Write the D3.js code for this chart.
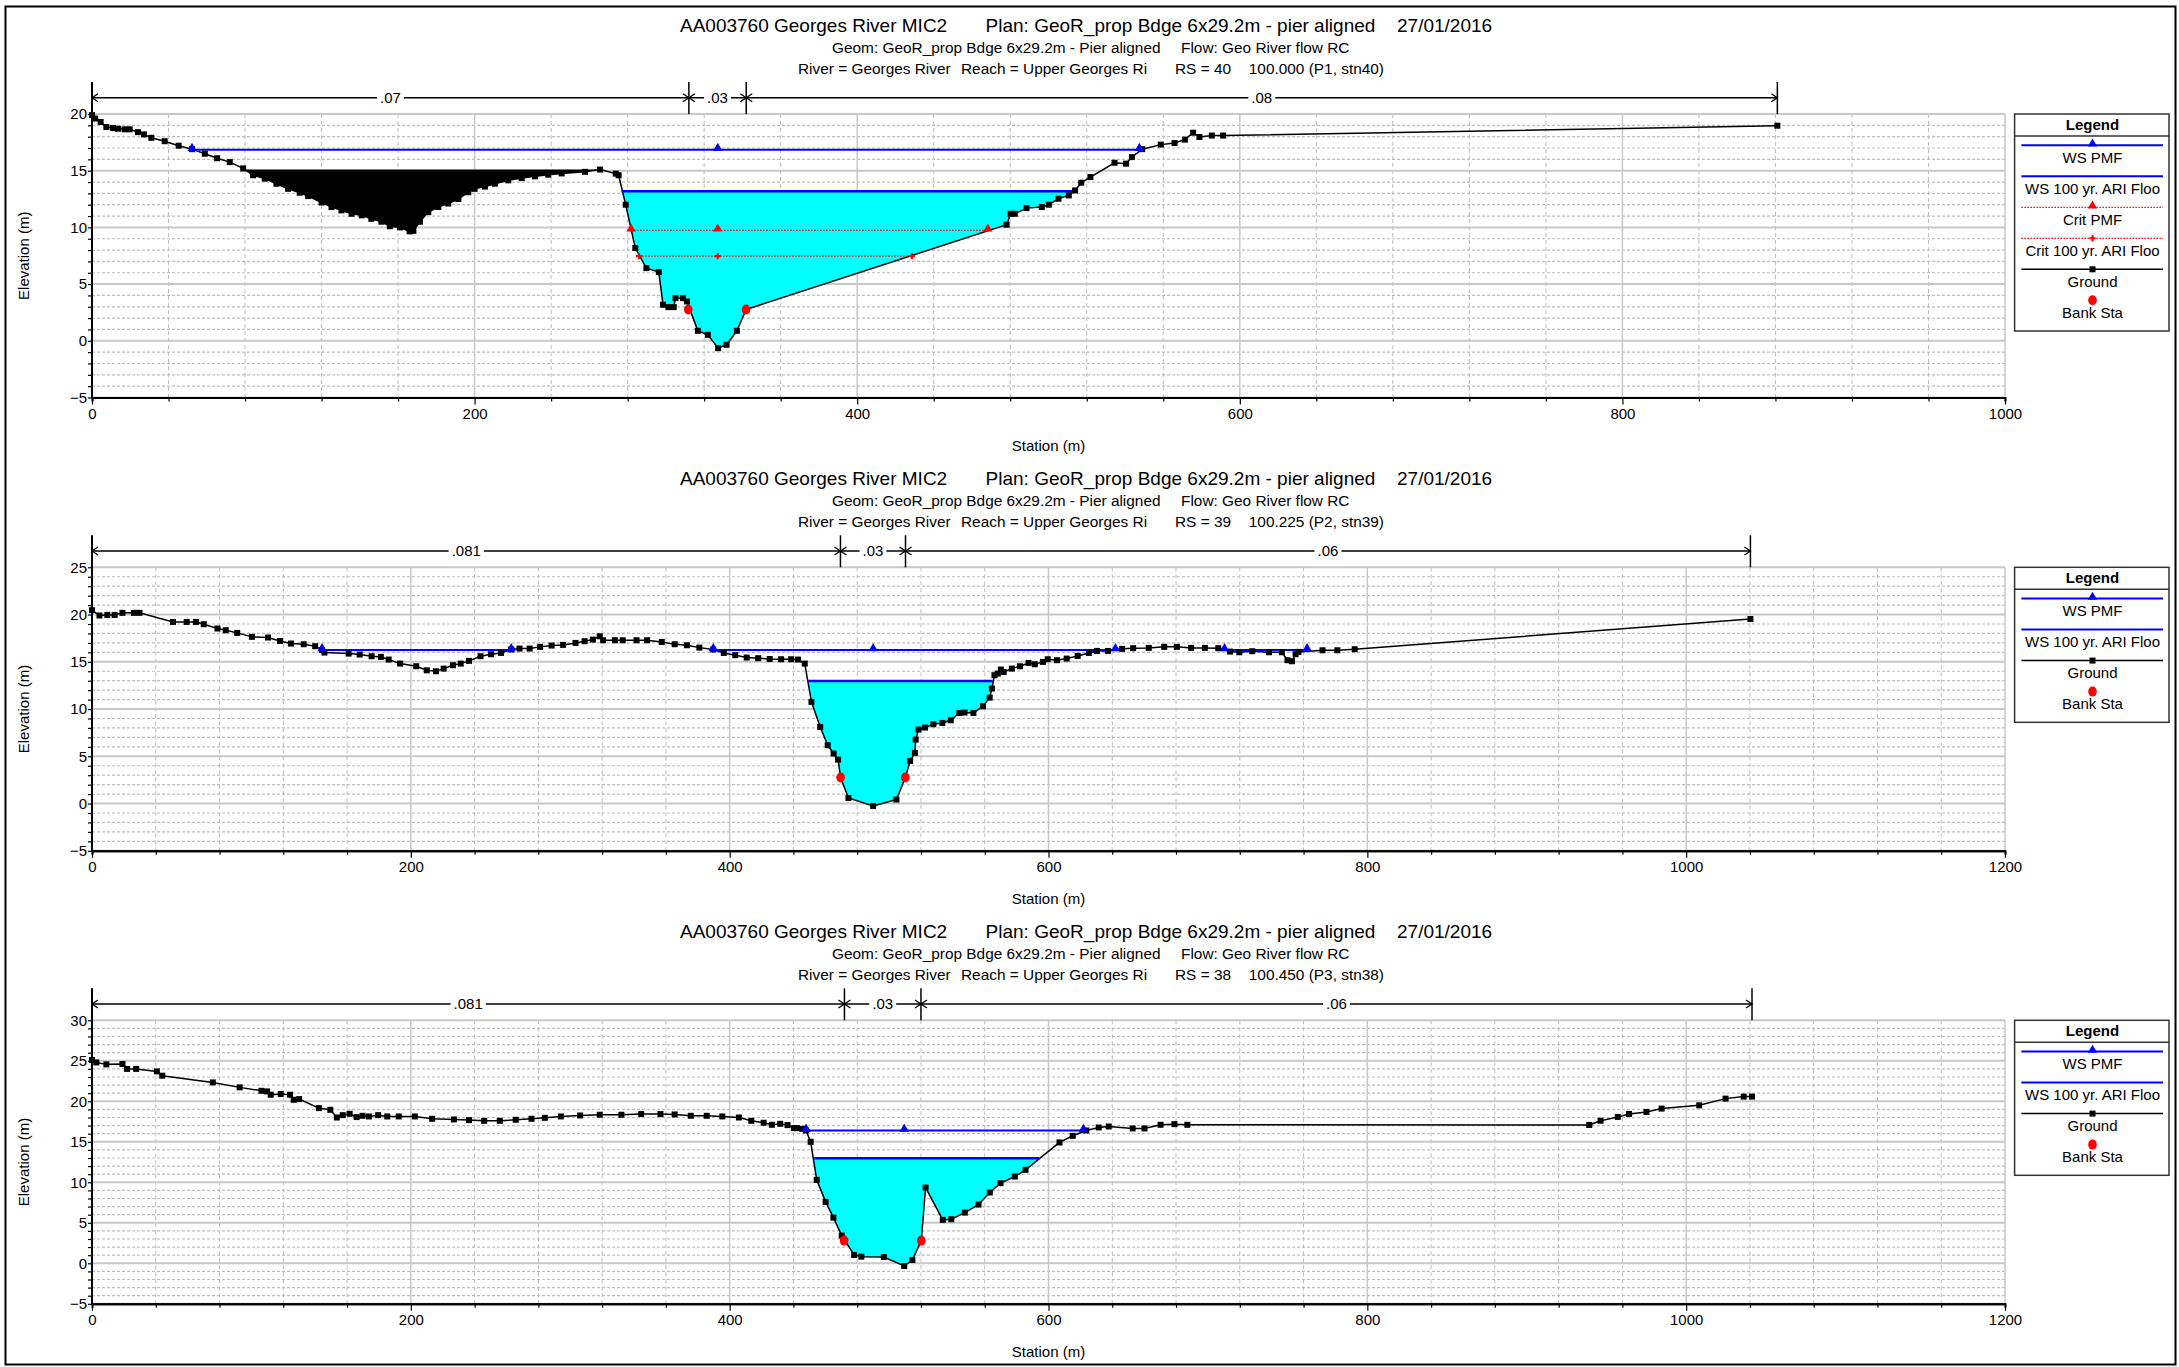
<!DOCTYPE html>
<html>
<head>
<meta charset="utf-8">
<script src="https://cdn.jsdelivr.net/npm/d3@7"></script>
<style>
  body { margin: 0; background: #fff; }
  text { font-family: "Liberation Sans", Arial, sans-serif; fill: #000; }
</style>
</head>
<body>
<svg id="chart" width="2179" height="1367"></svg>
<script>
//dimensions of the svg
var width = 2179, height = 1367;
var plotLeft = 92, plotRight = 2005, plotH = 283.5;
var panelTops = [114, 567.3, 1020.3];

//title text
var titleMain = ['AA003760 Georges River MIC2', 'Plan: GeoR_prop Bdge 6x29.2m - pier aligned', '27/01/2016'];
var titleGeom = ['Geom: GeoR_prop Bdge 6x29.2m - Pier aligned', 'Flow: Geo River flow RC'];
var titleRiver = [
  ['River = Georges River', 'Reach = Upper Georges Ri', 'RS = 40', '100.000 (P1, stn40)'],
  ['River = Georges River', 'Reach = Upper Georges Ri', 'RS = 39', '100.225 (P2, stn39)'],
  ['River = Georges River', 'Reach = Upper Georges Ri', 'RS = 38', '100.450 (P3, stn38)']
];

//axes
var xMax = [1000, 1200, 1200];
var yMin = [-5, -5, -5];
var yMax = [20, 25, 30];
var xTicks = [
  [0, 200, 400, 600, 800, 1000],
  [0, 200, 400, 600, 800, 1000, 1200],
  [0, 200, 400, 600, 800, 1000, 1200]
];
var yTicks = [
  [-5, 0, 5, 10, 15, 20],
  [-5, 0, 5, 10, 15, 20, 25],
  [-5, 0, 5, 10, 15, 20, 25, 30]
];

//ground profiles [station, elevation]
var ground1 = [[0,19.9],[1.7,19.6],[4.5,19.3],[7.5,18.85],[11,18.76],[13.6,18.7],[17,18.65],[19.7,18.65],[24,18.4],[27.2,18.2],[31,17.9],[38,17.6],[45.3,17.2],[52.3,16.9],[59,16.5],[65.4,16.1],[72,15.76],[79,15.2],[84.2,14.6],[90.3,14.3],[96.4,13.85],[102.5,13.4],[108.6,13.06],[113,12.76],[120,12.2],[125.2,11.8],[130.4,11.5],[135.7,11.2],[141,11.06],[146,10.76],[151.3,10.5],[155.7,10.1],[161,10.0],[166,9.65],[168,9.7],[171.4,10.5],[175.8,11.35],[181,11.8],[186.2,12.1],[191.5,12.5],[196.7,13.1],[200,13.4],[205.4,13.6],[210.6,13.85],[217.6,14.15],[224.6,14.35],[231.6,14.5],[238.5,14.65],[245.5,14.76],[257.7,14.9],[265.6,15.1],[273.8,14.74],[275.3,14.6],[279,12.0],[284,8.18],[289.8,6.41],[296.3,6.06],[298.5,3.18],[301.3,2.97],[304.1,2.97],[305,3.76],[308.9,3.76],[311,3.47],[316.7,0.88],[321.9,0.53],[327.3,-0.65],[331.7,-0.35],[337.1,0.88],[341.9,2.76],[478.1,10.24],[480.2,11.2],[482.4,11.2],[488.5,11.7],[496.5,11.8],[500.2,12.0],[505.2,12.53],[510.6,12.82],[513.9,13.26],[517.1,13.94],[521.9,14.44],[534.5,15.7],[540.5,15.62],[543.6,16.2],[549,16.9],[558.7,17.3],[565.9,17.44],[571.3,17.74],[575.6,18.35],[578.9,17.97],[585.4,18.1],[591.3,18.1],[881,18.97]];

var ground2 = [[0,20.46],[4.7,19.9],[9.6,19.96],[14.2,19.96],[19.1,20.18],[26.3,20.18],[29.8,20.18],[50.8,19.22],[59.4,19.22],[65.2,19.22],[70.1,18.98],[78.7,18.52],[83.9,18.34],[91.1,18.06],[100.3,17.64],[110.4,17.57],[117.9,17.2],[124.8,16.93],[132.8,16.86],[140,16.65],[144.3,16.25],[145.8,15.98],[161,15.87],[167.9,15.77],[175.4,15.59],[181.2,15.52],[186.1,15.24],[193.3,14.81],[203.4,14.53],[210,14.1],[215.8,14.0],[220.6,14.28],[226.4,14.64],[231.3,14.81],[236.5,15.1],[243.7,15.59],[250.3,15.8],[256.6,15.94],[263,16.3],[268.2,16.4],[274.5,16.4],[281.1,16.58],[288.3,16.72],[295.5,16.79],[303.3,17.0],[309,17.18],[314.2,17.35],[318.5,17.7],[320.6,17.28],[328,17.28],[332.9,17.28],[341.6,17.28],[348.2,17.28],[357.4,17.1],[365.5,16.86],[373.2,16.75],[381,16.5],[389.7,16.3],[396.3,15.94],[403.5,15.7],[410.7,15.45],[417.9,15.38],[425.1,15.3],[432.3,15.27],[438.6,15.27],[442.9,15.24],[447.1,14.81],[451.3,10.76],[456.8,8.11],[461.5,6.17],[465.2,5.29],[468,4.65],[469.6,2.75],[474.5,0.59],[490,-0.25],[504.6,0.42],[510.2,2.75],[513.2,4.51],[516.2,5.36],[516.7,6.77],[518.5,7.83],[522.5,8.04],[527.8,8.39],[533.4,8.53],[538.7,8.81],[544.1,9.59],[547.3,9.63],[552.9,9.59],[558.9,10.3],[563.1,11.21],[564.5,12.17],[566.1,13.58],[568.2,13.75],[570.1,14.18],[571.9,13.93],[577,14.28],[582.1,14.53],[587.5,14.88],[591.4,14.74],[596.5,14.99],[599.5,15.27],[605.3,15.17],[611.4,15.34],[618.3,15.62],[625.3,15.94],[630.4,16.15],[637.3,16.15],[646.2,16.37],[653.1,16.44],[662.9,16.47],[672.6,16.58],[680.5,16.58],[689.5,16.47],[698.1,16.47],[706.5,16.44],[713.9,16.08],[719.7,16.01],[727.8,16.12],[738.3,16.01],[746.4,16.01],[749.9,15.17],[752.7,15.06],[755,15.8],[756.8,16.05],[771.9,16.22],[781.2,16.22],[792.1,16.33],[1040.3,19.53]];

var ground3 = [[0,25.1],[2.7,24.8],[9,24.56],[19.1,24.6],[22,24.0],[27.7,24.0],[40.7,23.69],[44.1,23.16],[75.8,22.33],[92.6,21.72],[106.3,21.3],[109.8,21.22],[112.1,20.81],[118.4,20.9],[124.2,20.81],[126.5,20.19],[129.9,20.27],[142.3,19.16],[149.5,18.95],[153.6,18.0],[157.3,18.29],[161.6,18.46],[166,18.05],[169.7,18.21],[173.7,18.13],[179.5,18.29],[185.2,18.13],[192.4,18.13],[202.5,18.13],[213.4,17.84],[227,17.76],[236.5,17.68],[246,17.59],[255.8,17.59],[265.8,17.72],[275.7,17.84],[284,17.96],[294.1,18.13],[306.2,18.25],[318.5,18.34],[332.1,18.34],[344.5,18.42],[356.6,18.42],[365.5,18.38],[375.6,18.21],[385.6,18.21],[395.4,18.13],[405.8,18.0],[413.6,17.59],[421.3,17.35],[426.5,17.1],[431.7,17.22],[436.3,17.06],[440.3,16.69],[442.3,16.69],[445.6,16.6],[447.9,16.4],[450.8,15.0],[454.6,10.3],[460.2,7.58],[465.1,5.64],[470.3,3.42],[478.1,1.03],[482.6,0.82],[496.7,0.78],[509.5,-0.33],[514.6,0.41],[520.2,2.8],[522.9,9.35],[533.7,5.36],[539,5.44],[547.5,6.26],[556.1,7.25],[563.2,8.74],[569.9,9.89],[578.9,10.71],[585.6,11.54],[606.9,14.92],[615.2,15.74],[623.7,16.4],[631.5,16.77],[637.8,16.89],[652.8,16.65],[660.2,16.65],[670.3,17.1],[679,17.18],[687.1,17.1],[939.2,17.08],[946.3,17.6],[957.1,18.07],[964.2,18.44],[975.1,18.69],[984.6,19.1],[1008.2,19.5],[1024.7,20.33],[1036.1,20.58],[1041.3,20.58]];

var grounds = [ground1, ground2, ground3];

//bank stations
var banks = [[[311.7,2.76],[341.9,2.76]], [[469.6,2.75],[510.2,2.75]], [[471.8,2.8],[520.2,2.8]]];

//water surfaces
var wsPmfElev = [16.85, 16.25, 16.4];
var wsPmfSegments = [[[52.3,547.5]], [[144.3,263],[389.7,642],[710.4,762.2]], [[447.9,621.9]]];
var wsPmfMarks = [[52.3,327.1,547.5], [144.3,263,389.7,490,642,710.4,762.2], [447.9,509.5,621.9]];
var ws100Elev = [13.18, 12.98, 12.98];
var ws100Range = [[276.8,513.9], [449.4,565], [453,594.1]];

//critical depth (first section only)
var critPmfElev = 9.74, critPmfRange = [281.8,468.3], critPmfMarks = [281.8,327.1,468.3];
var crit100Elev = 7.47, crit100Range = [286,428.6], crit100Marks = [286,327.1,428.6];

//blocked area (first section only)
var blockElev = 15.1, blockRange = [79,265.6];

//Manning's n
var nBreaks = [[0,312,342,881], [0,469.5,510.3,1040.3], [0,472,520,1041.3]];
var nValues = [['.07','.03','.08'], ['.081','.03','.06'], ['.081','.03','.06']];

//legends
var legend1 = ['WS PMF', 'WS 100 yr. ARI Floo', 'Crit PMF', 'Crit 100 yr. ARI Floo', 'Ground', 'Bank Sta'];
var legend23 = ['WS PMF', 'WS 100 yr. ARI Floo', 'Ground', 'Bank Sta'];
var legends = [legend1, legend23, legend23];

var svg = d3.select('#chart');

svg.append('rect')
  .attr('x', 5.5).attr('y', 6.5)
  .attr('width', 2170).attr('height', 1358)
  .attr('fill', 'none').attr('stroke', '#000').attr('stroke-width', 2);

function groundAt(pts, s) {
  for (var i = 0; i < pts.length - 1; i++) {
    var a = pts[i], b = pts[i + 1];
    if (s >= a[0] && s <= b[0]) {
      var t = (s - a[0]) / ((b[0] - a[0]) || 1);
      return a[1] + t * (b[1] - a[1]);
    }
  }
  return pts[pts.length - 1][1];
}

function clipGround(pts, lo, hi) {
  var out = [[lo, groundAt(pts, lo)]];
  pts.forEach(function(p) {
    if (p[0] > lo && p[0] < hi) out.push(p);
  });
  out.push([hi, groundAt(pts, hi)]);
  return out;
}

var triangle = d3.symbol().type(d3.symbolTriangle).size(38);
var square = d3.symbol().type(d3.symbolSquare).size(36);
var plus = d3.symbol().type(d3.symbolCross).size(22);
var fmt = d3.format('d');

function drawPanel(p) {
  var top = panelTops[p], bottom = top + plotH;
  var g = svg.append('g');
  var ground = grounds[p];

  var x = d3.scaleLinear().domain([0, xMax[p]]).range([plotLeft, plotRight]);
  var y = d3.scaleLinear().domain([yMin[p], yMax[p]]).range([bottom, top]);

  //titles
  var tx1 = [680, 985.6, 1397];
  titleMain.forEach(function(t, i) {
    g.append('text').attr('x', tx1[i]).attr('y', top - 82.3)
      .style('font-size', '19px').text(t);
  });
  var tx2 = [832, 1181];
  titleGeom.forEach(function(t, i) {
    g.append('text').attr('x', tx2[i]).attr('y', top - 61.5)
      .style('font-size', '15.4px').text(t);
  });
  var tx3 = [798, 961, 1175, 1248.8];
  titleRiver[p].forEach(function(t, i) {
    g.append('text').attr('x', tx3[i]).attr('y', top - 40)
      .style('font-size', '15.4px').text(t);
  });

  //grid
  var minorX = d3.range(0, xMax[p] + 1, 40).filter(function(v) { return v % 200 !== 0; });
  var minorY = d3.range(yMin[p], yMax[p] + 1, 1).filter(function(v) { return v % 5 !== 0; });

  g.append('g').selectAll('line').data(minorY).enter().append('line')
    .attr('x1', plotLeft).attr('x2', plotRight)
    .attr('y1', function(d) { return y(d); }).attr('y2', function(d) { return y(d); })
    .attr('stroke', '#bdbdbd').attr('stroke-width', 1.2).attr('stroke-dasharray', '3,2');
  g.append('g').selectAll('line').data(minorX).enter().append('line')
    .attr('x1', function(d) { return x(d); }).attr('x2', function(d) { return x(d); })
    .attr('y1', top).attr('y2', bottom)
    .attr('stroke', '#bdbdbd').attr('stroke-width', 1).attr('stroke-dasharray', '4,3');
  g.append('g').selectAll('line').data(yTicks[p]).enter().append('line')
    .attr('x1', plotLeft).attr('x2', plotRight)
    .attr('y1', function(d) { return y(d); }).attr('y2', function(d) { return y(d); })
    .attr('stroke', '#c8c8c8').attr('stroke-width', 2);
  g.append('g').selectAll('line').data(xTicks[p]).enter().append('line')
    .attr('x1', function(d) { return x(d); }).attr('x2', function(d) { return x(d); })
    .attr('y1', top).attr('y2', bottom)
    .attr('stroke', '#c8c8c8').attr('stroke-width', 1.5);

  //blocked area
  if (p === 0) {
    var block = d3.area()
      .x(function(d) { return x(d[0]); })
      .y0(y(blockElev))
      .y1(function(d) { return y(Math.min(d[1], blockElev)); });
    g.append('path').datum(clipGround(ground, blockRange[0], blockRange[1]))
      .attr('d', block).attr('fill', '#000');
  }

  //100 yr water fill
  var wsE = ws100Elev[p];
  var water = d3.area()
    .x(function(d) { return x(d[0]); })
    .y0(y(wsE))
    .y1(function(d) { return y(Math.min(d[1], wsE)); });
  g.append('path').datum(clipGround(ground, ws100Range[p][0], ws100Range[p][1]))
    .attr('d', water).attr('fill', '#00ffff');

  //ground line
  var line = d3.line()
    .x(function(d) { return x(d[0]); })
    .y(function(d) { return y(d[1]); });
  g.append('path').datum(ground).attr('d', line)
    .attr('fill', 'none').attr('stroke', '#000').attr('stroke-width', 1.5);

  //water surface lines
  g.append('line')
    .attr('x1', x(ws100Range[p][0])).attr('x2', x(ws100Range[p][1]))
    .attr('y1', y(wsE)).attr('y2', y(wsE))
    .attr('stroke', '#0000ff').attr('stroke-width', 2.5);
  wsPmfSegments[p].forEach(function(s) {
    g.append('line')
      .attr('x1', x(s[0])).attr('x2', x(s[1]))
      .attr('y1', y(wsPmfElev[p])).attr('y2', y(wsPmfElev[p]))
      .attr('stroke', '#0000ff').attr('stroke-width', 2);
  });

  //critical lines
  if (p === 0) {
    [[critPmfElev, critPmfRange], [crit100Elev, crit100Range]].forEach(function(c) {
      g.append('line')
        .attr('x1', x(c[1][0])).attr('x2', x(c[1][1]))
        .attr('y1', y(c[0])).attr('y2', y(c[0]))
        .attr('stroke', '#ff0000').attr('stroke-width', 1.2).attr('stroke-dasharray', '1.5,1.5');
    });
  }

  //ground markers
  g.append('g').selectAll('path').data(ground).enter().append('path')
    .attr('d', square)
    .attr('transform', function(d) { return 'translate(' + x(d[0]) + ',' + y(d[1]) + ')'; })
    .attr('fill', '#000');

  //WS PMF markers
  g.append('g').selectAll('path').data(wsPmfMarks[p]).enter().append('path')
    .attr('d', triangle)
    .attr('transform', function(d) { return 'translate(' + x(d) + ',' + (y(wsPmfElev[p]) - 1.5) + ')'; })
    .attr('fill', '#0000ff');

  if (p === 0) {
    g.append('g').selectAll('path').data(critPmfMarks).enter().append('path')
      .attr('d', triangle)
      .attr('transform', function(d) { return 'translate(' + x(d) + ',' + (y(critPmfElev) - 1.5) + ')'; })
      .attr('fill', '#ff0000');
    g.append('g').selectAll('path').data(crit100Marks).enter().append('path')
      .attr('d', plus)
      .attr('transform', function(d) { return 'translate(' + x(d) + ',' + y(crit100Elev) + ')'; })
      .attr('fill', '#ff0000');
  }

  //bank stations
  g.append('g').selectAll('ellipse').data(banks[p]).enter().append('ellipse')
    .attr('cx', function(d) { return x(d[0]); })
    .attr('cy', function(d) { return y(d[1]); })
    .attr('rx', 4.3).attr('ry', 5)
    .attr('fill', '#ff0000');

  //axes
  var xAxis = g.append('g').attr('transform', 'translate(0,' + bottom + ')')
    .call(d3.axisBottom(x).tickValues(xTicks[p]).tickFormat(fmt).tickSize(7).tickSizeOuter(0).tickPadding(4));
  xAxis.append('g').call(d3.axisBottom(x).tickValues(minorX).tickSize(4).tickFormat(''));
  xAxis.selectAll('.domain').attr('stroke', '#000').attr('stroke-width', 2);
  xAxis.selectAll('.tick line').attr('stroke', '#000').attr('stroke-width', 1.2);
  xAxis.selectAll('text').style('font-size', '15px').style('font-family', '"Liberation Sans", Arial, sans-serif');

  var yAxis = g.append('g').attr('transform', 'translate(' + plotLeft + ',0)')
    .call(d3.axisLeft(y).tickValues(yTicks[p]).tickFormat(fmt).tickSize(4).tickSizeOuter(0).tickPadding(1));
  yAxis.append('g').call(d3.axisLeft(y).tickValues(minorY).tickSize(4).tickFormat(''));
  yAxis.selectAll('.domain').remove();
  yAxis.selectAll('.tick line').attr('stroke', '#000').attr('stroke-width', 1.2);
  yAxis.selectAll('text').style('font-size', '15px').style('font-family', '"Liberation Sans", Arial, sans-serif');

  g.append('line')
    .attr('x1', plotLeft).attr('x2', plotLeft)
    .attr('y1', top - 32).attr('y2', bottom + 1)
    .attr('stroke', '#000').attr('stroke-width', 2);

  g.append('text')
    .attr('x', (plotLeft + plotRight) / 2).attr('y', bottom + 53)
    .attr('text-anchor', 'middle').style('font-size', '15px')
    .text('Station (m)');
  g.append('text')
    .attr('transform', 'translate(28.5,' + (top + plotH / 2) + ') rotate(-90)')
    .attr('text-anchor', 'middle').style('font-size', '15px')
    .text('Elevation (m)');

  //Manning's n bar
  var yb = top - 16.3;
  var br = nBreaks[p];
  g.append('line')
    .attr('x1', x(br[0])).attr('x2', x(br[br.length - 1]))
    .attr('y1', yb).attr('y2', yb)
    .attr('stroke', '#000').attr('stroke-width', 1.5);
  br.forEach(function(b, i) {
    var bx = x(b);
    if (i > 0) {
      g.append('line').attr('x1', bx).attr('x2', bx).attr('y1', top - 32).attr('y2', top)
        .attr('stroke', '#000').attr('stroke-width', 1.5);
      g.append('path').attr('d', 'M' + (bx - 6) + ',' + (yb - 4) + 'L' + bx + ',' + yb + 'L' + (bx - 6) + ',' + (yb + 4))
        .attr('fill', 'none').attr('stroke', '#000').attr('stroke-width', 1.3);
    }
    if (i < br.length - 1) {
      g.append('path').attr('d', 'M' + (bx + 6) + ',' + (yb - 4) + 'L' + bx + ',' + yb + 'L' + (bx + 6) + ',' + (yb + 4))
        .attr('fill', 'none').attr('stroke', '#000').attr('stroke-width', 1.3);
    }
  });
  nValues[p].forEach(function(v, i) {
    var cx = (x(br[i]) + x(br[i + 1])) / 2;
    var t = g.append('text').attr('x', cx).attr('y', yb + 5.3)
      .attr('text-anchor', 'middle').style('font-size', '15px').text(v);
    var bb = t.node().getBBox();
    g.insert('rect', function() { return t.node(); })
      .attr('x', bb.x - 3).attr('y', yb - 3).attr('width', bb.width + 6).attr('height', 6)
      .attr('fill', '#fff');
  });

  drawLegend(p, top);
}

function drawLegend(p, top) {
  var items = legends[p];
  var lx0 = 2014.6, lx1 = 2169, lw0 = 2021.4, lw1 = 2163, mid = 2092.5;
  var boxH = 31.3 + 31 * items.length - 0.3;
  var lg = svg.append('g');
  lg.append('rect').attr('x', lx0).attr('y', top).attr('width', lx1 - lx0).attr('height', boxH)
    .attr('fill', '#fff').attr('stroke', '#333').attr('stroke-width', 1.5);
  lg.append('text').attr('x', mid).attr('y', top + 15.8).attr('text-anchor', 'middle')
    .style('font-size', '15px').style('font-weight', 'bold').text('Legend');
  lg.append('line').attr('x1', lx0).attr('x2', lx1).attr('y1', top + 22).attr('y2', top + 22)
    .attr('stroke', '#333').attr('stroke-width', 1.5);

  items.forEach(function(name, k) {
    var ly = top + 31.3 + 31 * k;
    if (name === 'WS PMF' || name === 'WS 100 yr. ARI Floo') {
      lg.append('line').attr('x1', lw0).attr('x2', lw1).attr('y1', ly).attr('y2', ly)
        .attr('stroke', '#0000ff').attr('stroke-width', 2);
      if (name === 'WS PMF') {
        lg.append('path').attr('d', triangle).attr('transform', 'translate(' + mid + ',' + (ly - 1.5) + ')').attr('fill', '#0000ff');
      }
    } else if (name === 'Crit PMF' || name === 'Crit 100 yr. ARI Floo') {
      lg.append('line').attr('x1', lw0).attr('x2', lw1).attr('y1', ly).attr('y2', ly)
        .attr('stroke', '#ff0000').attr('stroke-width', 1.2).attr('stroke-dasharray', '1.5,1.5');
      lg.append('path').attr('d', name === 'Crit PMF' ? triangle : plus)
        .attr('transform', 'translate(' + mid + ',' + (name === 'Crit PMF' ? ly - 1.5 : ly) + ')').attr('fill', '#ff0000');
    } else if (name === 'Ground') {
      lg.append('line').attr('x1', lw0).attr('x2', lw1).attr('y1', ly).attr('y2', ly)
        .attr('stroke', '#000').attr('stroke-width', 1.5);
      lg.append('path').attr('d', square).attr('transform', 'translate(' + mid + ',' + ly + ')').attr('fill', '#000');
    } else {
      lg.append('ellipse').attr('cx', mid).attr('cy', ly).attr('rx', 4.3).attr('ry', 5).attr('fill', '#ff0000');
    }
    lg.append('text').attr('x', mid).attr('y', ly + 17.5).attr('text-anchor', 'middle')
      .style('font-size', '15px').text(name);
  });
}

[0, 1, 2].forEach(drawPanel);
</script>
</body>
</html>
